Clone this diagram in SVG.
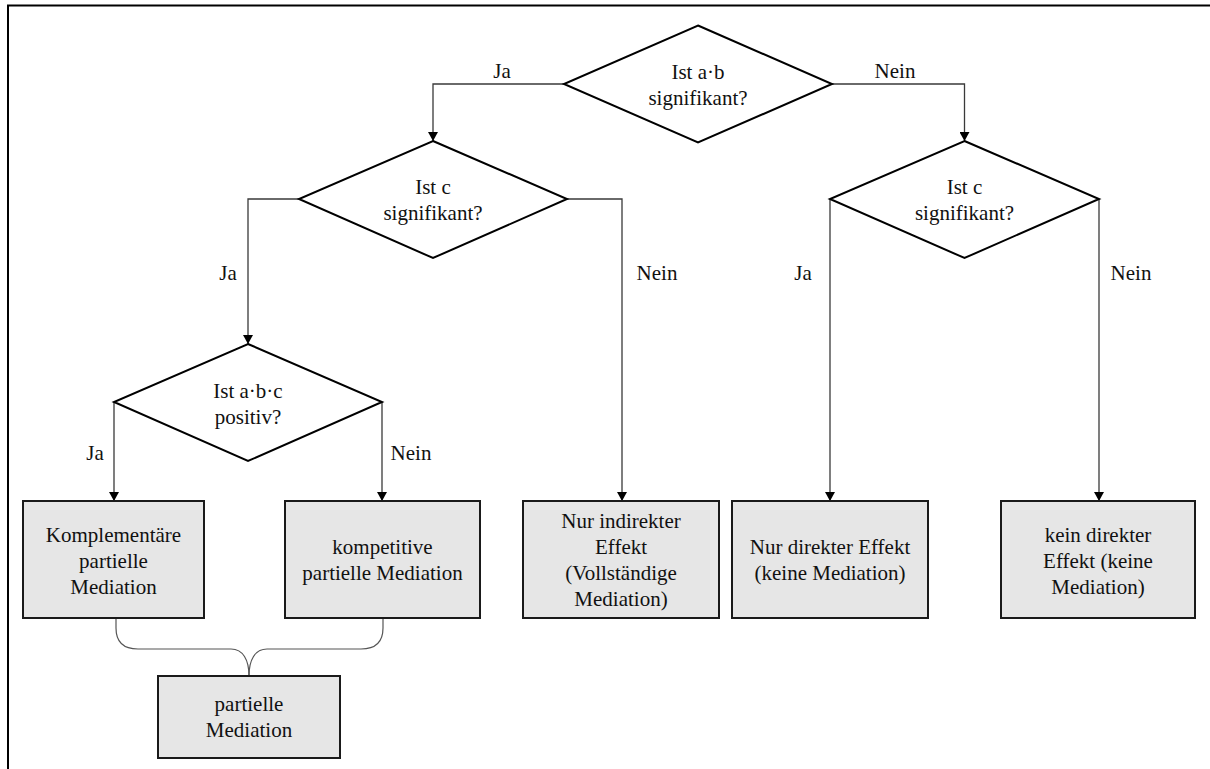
<svg xmlns="http://www.w3.org/2000/svg" width="1210" height="769" viewBox="0 0 1210 769" font-family="'Liberation Serif', 'DejaVu Serif', serif">
  <style>
    text { font-size: 21px; fill: #111; text-anchor: middle; }
    .decision { fill: #fff; stroke: #000; stroke-width: 2; }
    .result { fill: #e6e6e6; stroke: #1a1a1a; stroke-width: 2; }
    .link { fill: none; stroke: #3a3a3a; stroke-width: 1.3; }
    .brace { fill: none; stroke: #555; stroke-width: 1.2; }
    .frame { fill: none; stroke: #000; stroke-width: 2; }
  </style>
  <defs>
    <marker id="arrow" markerWidth="9" markerHeight="10" refX="9" refY="5" orient="auto" markerUnits="userSpaceOnUse">
      <path d="M0,0 L9,5 L0,10 Z" fill="#000"/>
    </marker>
  </defs>

  <rect width="1210" height="769" fill="#fff"/>
  <!-- outer frame (right and bottom edges lie outside the canvas) -->
  <rect class="frame" x="8" y="5.5" width="1400" height="900"/>

  <!-- connectors -->
  <g id="connectors">
    <path class="link" d="M564,84 H433 V141" marker-end="url(#arrow)"/>
    <path class="link" d="M832,84 H964.5 V141" marker-end="url(#arrow)"/>
    <path class="link" d="M299,199 H248 V344" marker-end="url(#arrow)"/>
    <path class="link" d="M567,199 H622 V501" marker-end="url(#arrow)"/>
    <path class="link" d="M830,199 V501" marker-end="url(#arrow)"/>
    <path class="link" d="M1099,199 V501" marker-end="url(#arrow)"/>
    <path class="link" d="M114,402 V501" marker-end="url(#arrow)"/>
    <path class="link" d="M382,402 V501" marker-end="url(#arrow)"/>
    <path class="brace" d="M116,619 L116,628 C116,642 124,649 138,649 L231,649 C243,649 249,660 249,676"/>
    <path class="brace" d="M383,619 L383,628 C383,642 375,649 361,649 L267,649 C255,649 249,660 249,676"/>
    <text x="502" y="78">Ja</text>
    <text x="895" y="78">Nein</text>
    <text x="228" y="280">Ja</text>
    <text x="657" y="280">Nein</text>
    <text x="803" y="280">Ja</text>
    <text x="1131" y="280">Nein</text>
    <text x="95" y="460">Ja</text>
    <text x="411" y="460">Nein</text>
  </g>

  <!-- decisions -->
  <g id="q-ab">
    <polygon class="decision" points="698,25.5 832,84 698,142.5 564,84"/>
    <text x="698" y="79">Ist a·b</text>
    <text x="698" y="105">signifikant?</text>
  </g>
  <g id="q-c-left">
    <polygon class="decision" points="433,141 567,199 433,258 299,199"/>
    <text x="433" y="194">Ist c</text>
    <text x="433" y="220">signifikant?</text>
  </g>
  <g id="q-c-right">
    <polygon class="decision" points="964.5,141 1099,199 964.5,258 830,199"/>
    <text x="964.5" y="194">Ist c</text>
    <text x="964.5" y="220">signifikant?</text>
  </g>
  <g id="q-abc">
    <polygon class="decision" points="248,344 382,402 248,461 114,402"/>
    <text x="248" y="398">Ist a·b·c</text>
    <text x="248" y="424">positiv?</text>
  </g>

  <!-- outcomes -->
  <g id="r-komplementaer">
    <rect class="result" x="23" y="501" width="181" height="117"/>
    <text x="113.5" y="542">Komplementäre</text>
    <text x="113.5" y="568">partielle</text>
    <text x="113.5" y="594">Mediation</text>
  </g>
  <g id="r-kompetitiv">
    <rect class="result" x="285" y="501" width="195" height="117"/>
    <text x="382.5" y="554">kompetitive</text>
    <text x="382.5" y="580">partielle Mediation</text>
  </g>
  <g id="r-indirekt">
    <rect class="result" x="523" y="501" width="196" height="117"/>
    <text x="621" y="528">Nur indirekter</text>
    <text x="621" y="554">Effekt</text>
    <text x="621" y="580">(Vollständige</text>
    <text x="621" y="606">Mediation)</text>
  </g>
  <g id="r-direkt">
    <rect class="result" x="732" y="501" width="196" height="117"/>
    <text x="830" y="554">Nur direkter Effekt</text>
    <text x="830" y="580">(keine Mediation)</text>
  </g>
  <g id="r-kein">
    <rect class="result" x="1001" y="501" width="194" height="117"/>
    <text x="1098" y="542">kein direkter</text>
    <text x="1098" y="568">Effekt (keine</text>
    <text x="1098" y="594">Mediation)</text>
  </g>
  <g id="r-partiell">
    <rect class="result" x="158" y="676" width="182" height="82"/>
    <text x="249" y="711">partielle</text>
    <text x="249" y="737">Mediation</text>
  </g>
</svg>
